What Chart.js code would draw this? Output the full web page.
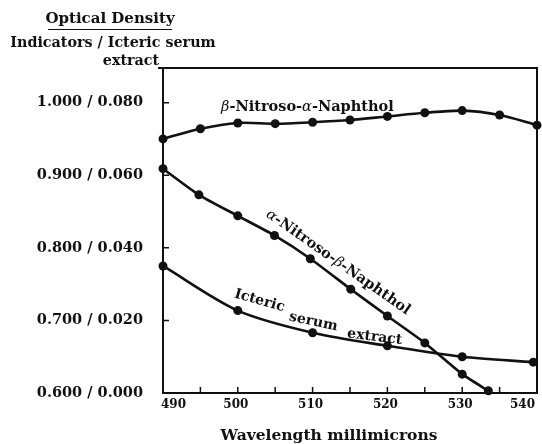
<!DOCTYPE html>
<html>
<head>
<meta charset="utf-8">
<script src="https://cdn.jsdelivr.net/npm/chart.js@4"></script>
<style>
html, body { margin: 0; padding: 0; background: #fff; }
#wrap { width: 542px; height: 444px; }
</style>
</head>
<body>
<div id="wrap"><canvas id="graph"></canvas></div>
<script>
// wavelengths (millimicrons) and optical densities
const betaWl = [490, 495, 500, 505, 510, 515, 520, 525, 530, 535, 540]
const betaOD = [0.950, 0.964, 0.972, 0.971, 0.973, 0.976, 0.981, 0.986, 0.989, 0.983, 0.969]

const alphaWl = [490, 494.8, 500, 504.9, 509.7, 515.1, 520, 525, 530, 533.5]
const alphaOD = [0.909, 0.873, 0.844, 0.817, 0.785, 0.743, 0.706, 0.669, 0.626, 0.603]

// icteric serum extract uses the right-hand numbers (0.000 - 0.080)
const serumWl = [490, 500, 510, 520, 530, 539.5]
const serumOD = [0.035, 0.0227, 0.0166, 0.0130, 0.0100, 0.0085]

const yTicks = [0.6, 0.7, 0.8, 0.9, 1.0]
const yTickLabels = ["0.600 / 0.000", "0.700 / 0.020", "0.800 / 0.040", "0.900 / 0.060", "1.000 / 0.080"]
const xTicks = [490, 500, 510, 520, 530, 540]
const xMinorTicks = [495, 505, 515, 525, 535]

const yMax = 1.0477
const ink = '#111'
const SERIF = '"DejaVu Serif", serif'

const toPoints = (xs, ys) => xs.map((x, i) => ({x: x, y: ys[i]}))

// draws a run of text pieces centred on (cx, cy), rotated by angle degrees
function drawParts(ctx, parts, cx, cy, angle, size) {
    const fontFor = p => (p.it ? 'italic ' : 'bold ') + size + 'px ' + SERIF
    let w = 0
    parts.forEach(p => {
        ctx.font = fontFor(p)
        w += ctx.measureText(p.t).width
    })
    ctx.save()
    ctx.translate(cx, cy)
    ctx.rotate(angle * Math.PI / 180)
    ctx.textAlign = 'left'
    ctx.textBaseline = 'middle'
    let px = -w / 2
    parts.forEach(p => {
        ctx.font = fontFor(p)
        ctx.fillText(p.t, px, 0)
        px += ctx.measureText(p.t).width
    })
    ctx.restore()
}

const overlay = {
    id: 'overlay',
    afterDraw(chart) {
        const ctx = chart.ctx
        const a = chart.chartArea
        const x = chart.scales.x
        const y = chart.scales.y
        ctx.save()
        ctx.strokeStyle = ink
        ctx.fillStyle = ink

        // frame
        ctx.lineWidth = 2
        ctx.strokeRect(a.left, a.top, a.right - a.left, a.bottom - a.top)
        ctx.beginPath()
        ctx.moveTo(a.left - 5, a.top)
        ctx.lineTo(a.left, a.top)
        ctx.stroke()

        // inward tick marks
        ctx.lineWidth = 1.5
        ctx.beginPath()
        yTicks.forEach(v => {
            const py = y.getPixelForValue(v)
            ctx.moveTo(a.left, py)
            ctx.lineTo(a.left + 6, py)
        })
        xTicks.concat(xMinorTicks).forEach(v => {
            const px = x.getPixelForValue(v)
            ctx.moveTo(px, a.bottom)
            ctx.lineTo(px, a.bottom - 6)
        })
        ctx.stroke()

        // header on the value axis
        drawParts(ctx, [{t: 'Optical Density'}], 110, 19, 0, 15)
        ctx.lineWidth = 1.2
        ctx.beginPath()
        ctx.moveTo(48, 29.5)
        ctx.lineTo(172, 29.5)
        ctx.stroke()
        drawParts(ctx, [{t: 'Indicators / Icteric serum'}], 113, 43, 0, 14.3)
        drawParts(ctx, [{t: 'extract'}], 131, 61, 0, 14.3)

        // axis title
        drawParts(ctx, [{t: 'Wavelength millimicrons'}], 329, 436, 0, 15.5)

        // curve labels
        drawParts(ctx, [{t: 'β', it: true}, {t: '-Nitroso-'}, {t: 'α', it: true}, {t: '-Naphthol'}],
            x.getPixelForValue(509.3), y.getPixelForValue(0.994), 0, 14.5)
        drawParts(ctx, [{t: 'α', it: true}, {t: '-Nitroso-'}, {t: 'β', it: true}, {t: '-Naphthol'}],
            x.getPixelForValue(513.4), y.getPixelForValue(0.780), 35, 14.5)
        drawParts(ctx, [{t: 'Icteric'}], x.getPixelForValue(502.9), y.getPixelForValue(0.727), 16, 14)
        drawParts(ctx, [{t: 'serum'}], x.getPixelForValue(510.1), y.getPixelForValue(0.698), 12, 14)
        drawParts(ctx, [{t: 'extract'}], x.getPixelForValue(518.3), y.getPixelForValue(0.677), 7, 14)
        ctx.restore()
    }
}

const lineStyle = {
    borderColor: ink,
    borderWidth: 2.6,
    backgroundColor: ink,
    pointBackgroundColor: ink,
    pointBorderWidth: 0,
    pointRadius: 4.5,
    tension: 0.3,
    clip: false,
    fill: false,
}

const data = {
    datasets: [
        Object.assign({label: 'β-Nitroso-α-Naphthol', data: toPoints(betaWl, betaOD), yAxisID: 'y'}, lineStyle),
        Object.assign({label: 'α-Nitroso-β-Naphthol', data: toPoints(alphaWl, alphaOD), yAxisID: 'y'}, lineStyle, {tension: 0.2}),
        Object.assign({label: 'Icteric serum extract', data: toPoints(serumWl, serumOD), yAxisID: 'y2'}, lineStyle),
    ],
}

const config = {
    type: 'line',
    data: data,
    options: {
        responsive: true,
        maintainAspectRatio: false,
        animation: false,
        layout: {padding: {top: 68, right: 5, left: 0, bottom: 0}},
        plugins: {legend: {display: false}, tooltip: {enabled: false}},
        scales: {
            x: {
                type: 'linear',
                min: 490,
                max: 540,
                afterBuildTicks: s => { s.ticks = xTicks.map(v => ({value: v})) },
                afterFit: s => { s.height = 51; s.paddingLeft = 0; s.paddingRight = 0 },
                grid: {display: false, drawTicks: false},
                border: {display: false},
                ticks: {
                    padding: 5,
                    align: 'inner',
                    labelOffset: -2,
                    maxRotation: 0,
                    autoSkip: false,
                    color: ink,
                    font: {family: SERIF, size: 12, weight: 'bold'},
                    callback: v => String(v),
                },
            },
            y: {
                min: 0.6,
                max: yMax,
                afterBuildTicks: s => { s.ticks = yTicks.map(v => ({value: v})) },
                afterFit: s => { s.width = 163 },
                grid: {display: false, drawTicks: false},
                border: {display: false},
                ticks: {
                    padding: 20,
                    color: ink,
                    font: {family: SERIF, size: 14.5, weight: 'bold'},
                    callback: (v, i) => yTickLabels[i],
                },
            },
            y2: {
                display: false,
                min: 0,
                max: (yMax - 0.6) / 5,
            },
        },
    },
    plugins: [overlay],
}

let myChart = new Chart(
    document.getElementById("graph").getContext("2d"),
    config
);
</script>
</body>
</html>
